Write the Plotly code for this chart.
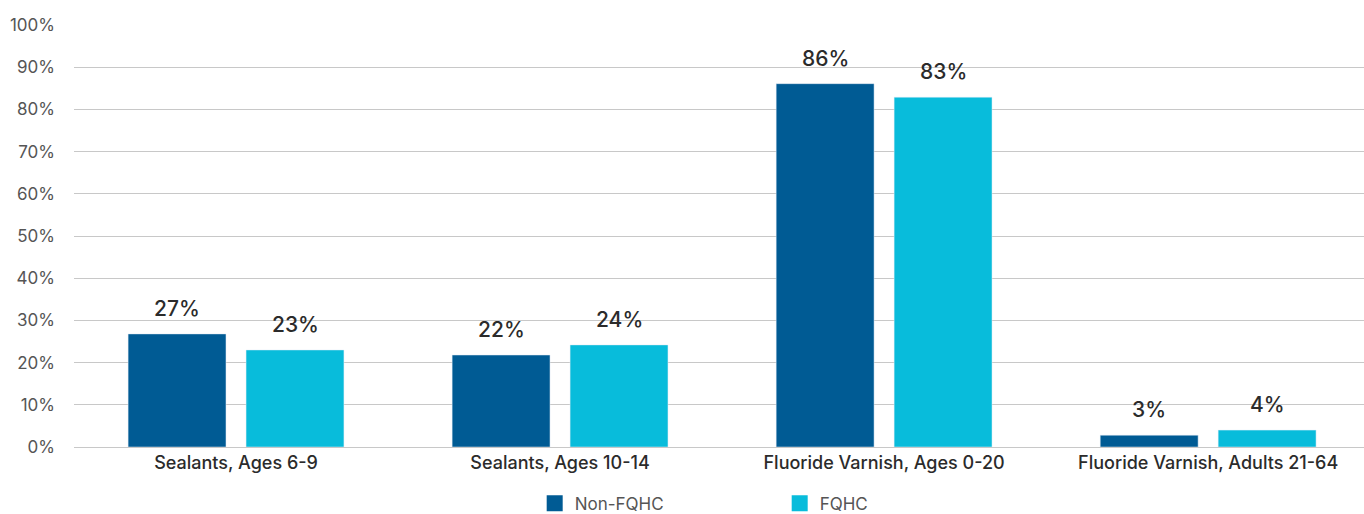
import plotly.graph_objects as go

categories = ["Sealants, Ages 6-9", "Sealants, Ages 10-14", "Fluoride Varnish, Ages 0-20", "Fluoride Varnish, Adults 21-64"]
non_fqhc = [26.8, 21.8, 86.1, 2.8]
fqhc = [23.0, 24.2, 82.9, 4.0]
non_fqhc_labels = ["27%", "22%", "86%", "3%"]
fqhc_labels = ["23%", "24%", "83%", "4%"]
tick_vals = [0, 10, 20, 30, 40, 50, 60, 70, 80, 90, 100]
tick_text = [f"{v}%" for v in tick_vals]

FONT = "Inter, Roboto, sans-serif"
C_NON = "#005B94"
C_FQ = "#08BCDB"

fig = go.Figure()
fig.add_trace(go.Bar(
    name="Non-FQHC", x=categories, y=non_fqhc, marker_color=C_NON,
    hoverinfo="skip", showlegend=False,
))
fig.add_trace(go.Bar(
    name="FQHC", x=categories, y=fqhc, marker_color=C_FQ,
    hoverinfo="skip", showlegend=False,
))
# legend entries with larger square symbols
for name, col in [("Non-FQHC", C_NON), ("FQHC", C_FQ)]:
    fig.add_trace(go.Scatter(
        x=[None], y=[None], mode="markers", name=name,
        marker=dict(symbol="square", size=17, color=col),
    ))

# value labels above bars
for vals, labels, shift in [(non_fqhc, non_fqhc_labels, -59), (fqhc, fqhc_labels, 59)]:
    for c, v, t in zip(categories, vals, labels):
        fig.add_annotation(
            x=c, y=v, text=t, showarrow=False, xshift=shift, yshift=11,
            yanchor="bottom",
            font=dict(size=21, color="#2b2b2b", family=FONT, weight=500),
        )

fig.update_layout(
    width=1364, height=514,
    margin=dict(l=74, r=0, t=25, b=67),
    paper_bgcolor="white", plot_bgcolor="white",
    barmode="group", bargap=0.272, bargroupgap=0.17,
    font=dict(family=FONT, color="#555555", size=16),
    showlegend=True,
    legend=dict(
        orientation="h", xref="container", yref="container",
        x=0.392, xanchor="left", y=0.02, yanchor="middle",
        font=dict(size=17, color="#555555", family=FONT),
        entrywidth=200, entrywidthmode="pixels", itemsizing="trace",
        itemclick=False, itemdoubleclick=False,
    ),
)
fig.update_yaxes(
    range=[0, 100], tickvals=tick_vals, ticktext=tick_text,
    showgrid=True, gridcolor="#c8c8c8", gridwidth=1,
    zeroline=True, zerolinecolor="#c8c8c8", zerolinewidth=1,
    showline=False, ticks="", ticklabelstandoff=18,
    tickfont=dict(size=17, color="#555555", family=FONT),
)
fig.update_xaxes(
    range=[-0.5, 3.481],
    showline=False, ticks="", ticklabelstandoff=3,
    tickfont=dict(size=18, color="#2b2b2b", family=FONT, weight=500),
)

fig.write_html("out.html")
